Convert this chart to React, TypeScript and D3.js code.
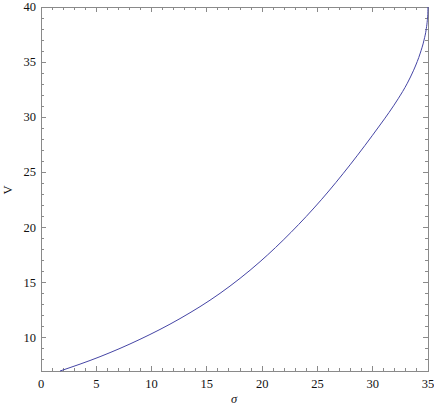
import React from "react";
import * as d3 from "d3";

const sigma = [1.72, 5.34, 8.95, 12.57, 16.19, 19.81, 22.6, 25.39, 27.95, 30.66, 31.47, 32.3, 33.13, 33.7, 34.03, 34.3, 34.64, 34.85, 34.94, 34.98, 35.0];
const V = [7, 8.3, 9.87, 11.75, 14.04, 16.91, 19.56, 22.57, 25.69, 29.3, 30.43, 31.68, 33.09, 34.27, 35.06, 35.82, 37.0, 38.05, 38.8, 39.3, 40];
const xMajor = [0, 5, 10, 15, 20, 25, 30, 35];
const yMajor = [10, 15, 20, 25, 30, 35, 40];

const W = 434, H = 415;
const L = 41, R = 428, T = 7, B = 371;
const frameColor = "#8a8a8a";

export default function App() {
  const x = d3.scaleLinear().domain([0, 35]).range([L, R]);
  const y = d3.scaleLinear().domain([7, 40]).range([B, T]);
  const line = d3.line<number>().x((_, i) => x(sigma[i])).y((d) => y(d)).curve(d3.curveMonotoneX);
  const xMinor = d3.range(0, 35.01, 1).filter((v) => !xMajor.includes(v));
  const yMinor = d3.range(7, 40.01, 1).filter((v) => !yMajor.includes(v));
  const font = "Liberation Serif, Times New Roman, Times, serif";
  const maj = 5, mn = 3;
  return (
    <svg width={W} height={H} style={{ position: "absolute", left: 0, top: 0 }}>
      <rect x={0} y={0} width={W} height={H} fill="#fff" />
      <g stroke={frameColor} strokeWidth={1} shapeRendering="crispEdges">
        {xMajor.map((v) => (
          <g key={"xm" + v}>
            <line x1={x(v)} x2={x(v)} y1={B} y2={B - maj} />
            <line x1={x(v)} x2={x(v)} y1={T} y2={T + maj} />
          </g>
        ))}
        {xMinor.map((v) => (
          <g key={"xn" + v}>
            <line x1={x(v)} x2={x(v)} y1={B} y2={B - mn} />
            <line x1={x(v)} x2={x(v)} y1={T} y2={T + mn} />
          </g>
        ))}
        {yMajor.map((v) => (
          <g key={"ym" + v}>
            <line x1={L} x2={L + maj} y1={y(v)} y2={y(v)} />
            <line x1={R} x2={R - maj} y1={y(v)} y2={y(v)} />
          </g>
        ))}
        {yMinor.map((v) => (
          <g key={"yn" + v}>
            <line x1={L} x2={L + mn} y1={y(v)} y2={y(v)} />
            <line x1={R} x2={R - mn} y1={y(v)} y2={y(v)} />
          </g>
        ))}
        <rect x={L} y={T} width={R - L} height={B - T} fill="none" />
      </g>
      <path d={line(V) || ""} fill="none" stroke="#4545a5" strokeWidth={1} />
      <g style={{ fontFamily: font }} fontSize={12.5} fill="#111">
        {xMajor.map((v) => (
          <text key={"xl" + v} x={x(v)} y={388} textAnchor="middle">{v}</text>
        ))}
        {yMajor.map((v) => (
          <text key={"yl" + v} x={36} y={y(v) + 4} textAnchor="end">{v}</text>
        ))}
        <text x={234} y={403} textAnchor="middle" fontStyle="italic">σ</text>
        <text transform={`translate(12,190) rotate(-90)`} textAnchor="middle">V</text>
      </g>
    </svg>
  );
}
